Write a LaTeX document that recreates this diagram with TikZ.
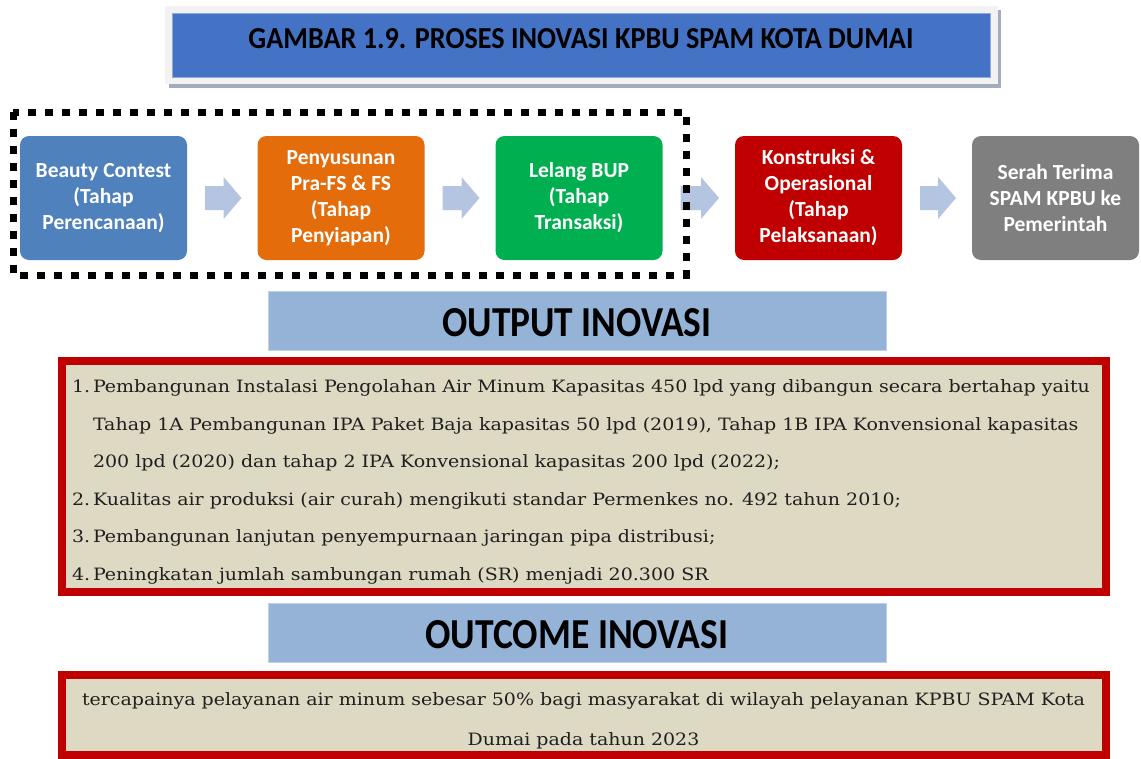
\documentclass[tikz,border=0pt]{standalone}
\usepackage{fontspec}
\usepackage{graphicx}
\usetikzlibrary{calc}
\newfontfamily\carlito{Carlito}
\newfontfamily\dvserif{DejaVu Serif}
\definecolor{titleblue}{HTML}{4472C4}
\definecolor{titleedge}{HTML}{8FAADC}
\definecolor{framegray}{HTML}{F2F2F2}
\definecolor{shadowc}{HTML}{A3ACBE}
\definecolor{cblue}{HTML}{4F81BD}
\definecolor{corange}{HTML}{E46C0A}
\definecolor{cgreen}{HTML}{00B050}
\definecolor{cred}{HTML}{C00000}
\definecolor{cgray}{HTML}{7F7F7F}
\definecolor{arrowc}{HTML}{B3C5E0}
\definecolor{banner}{HTML}{95B3D7}
\definecolor{tanfill}{HTML}{DDD9C3}
\definecolor{txt}{HTML}{1F1F1F}
\newcommand\outfont{\dvserif\fontsize{17}{17}\selectfont}
\newlength\reflen
\newcommand\blockarrow[2]{%
  \fill[arrowc] ($(#1.east)+(18,-12)$) -- ($(#2.west)+(-34,-12)$) -- ($(#2.west)+(-34,-21)$)
    -- ($(#2.west)+(-16,0)$) -- ($(#2.west)+(-34,21)$) -- ($(#2.west)+(-34,12)$)
    -- ($(#1.east)+(18,12)$) -- cycle;}
\begin{document}
\settowidth\reflen{\outfont Pembangunan Instalasi Pengolahan Air Minum Kapasitas 450 lpd yang dibangun secara bertahap yaitu}%
\pgfmathsetmacro\oxs{997/\reflen}%
\settowidth\reflen{\outfont tercapainya pelayanan air minum sebesar 50\% bagi masyarakat di wilayah pelayanan KPBU SPAM Kota}%
\pgfmathsetmacro\ocs{1003/\reflen}%
\begin{tikzpicture}[x=1pt,y=-1pt,
  stagebox/.style={rounded corners=9pt, minimum width=167pt, minimum height=124pt,
    inner sep=0pt, outer sep=0pt, align=center, text=white,
    font=\carlito\bfseries\fontsize{21.5}{26}\selectfont},
  bannerbox/.style={fill=banner, draw=banner!60!white, line width=0.6pt,
    minimum width=618pt, minimum height=59pt, inner sep=0pt, outer sep=0pt},
  redbox/.style={fill=tanfill, draw=cred, line width=8pt, inner sep=0pt, outer sep=0pt,
    minimum width=1044pt},
  listline/.style={anchor=base west, inner sep=0pt, outer sep=0pt, text=txt},
  centerline/.style={anchor=base, inner sep=0pt, outer sep=0pt, text=txt},
  headtext/.style={anchor=base, inner sep=0pt, outer sep=0pt, text=black},
  dotframe/.style={draw=black, line width=7pt, dash pattern=on 8pt off 9pt}
]
\useasboundingbox (0,0) rectangle (1141,758);

% title
\fill[shadowc] (169,10) rectangle (1001,88);
\node[fill=framegray, minimum width=833pt, minimum height=78pt, inner sep=0pt, outer sep=0pt] (tframe) at (581.5,45) {};
\node[fill=titleblue, draw=titleedge, line width=0.8pt, minimum width=818pt, minimum height=64pt, inner sep=0pt, outer sep=0pt] (tbox) at (581,45) {};
\node[headtext] (ttext) at (581,48) {\resizebox{665pt}{20pt}{\carlito\bfseries GAMBAR 1.9. PROSES INOVASI KPBU SPAM KOTA DUMAI}};

% stages
\node[stagebox, fill=cblue] (s1) at (103.5,198) {Beauty Contest\\(Tahap\\Perencanaan)};
\node[stagebox, fill=corange] (s2) at (341,198) {Penyusunan\\Pra-FS \& FS\\(Tahap\\Penyiapan)};
\node[stagebox, fill=cgreen] (s3) at (579,198) {Lelang BUP\\(Tahap\\Transaksi)};
\node[stagebox, fill=cred] (s4) at (818.5,198) {Konstruksi \&\\Operasional\\(Tahap\\Pelaksanaan)};
\node[stagebox, fill=cgray] (s5) at (1055.5,198) {Serah Terima\\SPAM KPBU ke\\Pemerintah};
\blockarrow{s1}{s2}
\blockarrow{s2}{s3}
\blockarrow{s3}{s4}
\blockarrow{s4}{s5}
\draw[dotframe] (13,112) rectangle (686,275);

% output
\node[bannerbox] (outban) at (577,320.5) {};
\node[headtext] (outtitle) at (577,336) {\resizebox{269pt}{28pt}{\carlito\bfseries OUTPUT INOVASI}};
\node[redbox, minimum height=231pt] (outbox) at (584,476.5) {};
\node[listline] (n1) at (72,392) {\scalebox{\oxs}[1]{\outfont 1.}};
\node[listline] (l1a) at (93,392) {\scalebox{\oxs}[1]{\outfont Pembangunan Instalasi Pengolahan Air Minum Kapasitas 450 lpd yang dibangun secara bertahap yaitu}};
\node[listline] (l1b) at (93,430) {\scalebox{\oxs}[1]{\outfont Tahap 1A Pembangunan IPA Paket Baja kapasitas 50 lpd (2019), Tahap 1B IPA Konvensional kapasitas}};
\node[listline] (l1c) at (93,467) {\scalebox{\oxs}[1]{\outfont 200 lpd (2020) dan tahap 2 IPA Konvensional kapasitas 200 lpd (2022);}};
\node[listline] (n2) at (72,505) {\scalebox{\oxs}[1]{\outfont 2.}};
\node[listline] (l2) at (93,505) {\scalebox{\oxs}[1]{\outfont Kualitas air produksi (air curah) mengikuti standar Permenkes no. 492 tahun 2010;}};
\node[listline] (n3) at (72,542) {\scalebox{\oxs}[1]{\outfont 3.}};
\node[listline] (l3) at (93,542) {\scalebox{\oxs}[1]{\outfont Pembangunan lanjutan penyempurnaan jaringan pipa distribusi;}};
\node[listline] (n4) at (72,580) {\scalebox{\oxs}[1]{\outfont 4.}};
\node[listline] (l4) at (93,580) {\scalebox{\oxs}[1]{\outfont Peningkatan jumlah sambungan rumah (SR) menjadi 20.300 SR}};

% outcome
\node[bannerbox] (ocban) at (577,632.5) {};
\node[headtext] (octitle) at (577,648) {\resizebox{303pt}{28pt}{\carlito\bfseries OUTCOME INOVASI}};
\node[redbox, minimum height=80pt] (ocbox) at (584,715) {};
\node[centerline] (oc1) at (583.5,705) {\scalebox{\ocs}[1]{\outfont tercapainya pelayanan air minum sebesar 50\% bagi masyarakat di wilayah pelayanan KPBU SPAM Kota}};
\node[centerline] (oc2) at (583.5,745) {\scalebox{\ocs}[1]{\outfont Dumai pada tahun 2023}};
\end{tikzpicture}
\end{document}
